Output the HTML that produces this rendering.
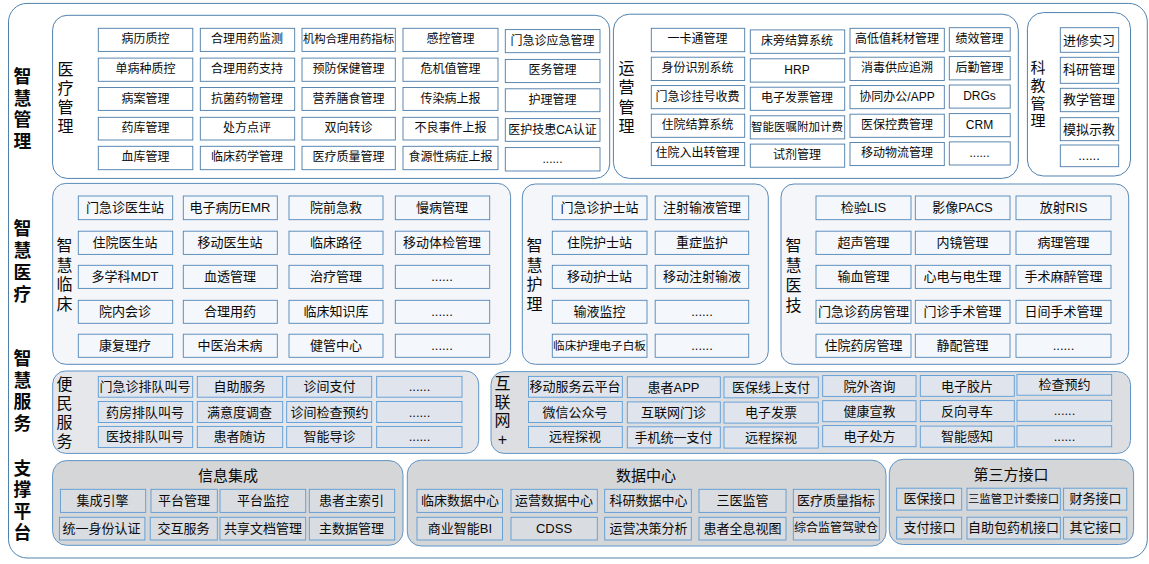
<!DOCTYPE html>
<html lang="zh-CN">
<head>
<meta charset="utf-8">
<title>智慧医院总体架构</title>
<style>
html,body{margin:0;padding:0;background:#fff}
body{width:1149px;height:564px;position:relative;overflow:hidden;font-family:"Liberation Sans","Noto Sans CJK SC",sans-serif}
#art{position:absolute;left:0;top:0;width:1149px;height:564px;display:block;filter:blur(0.35px)}
#txt{position:absolute;left:0;top:0;width:1149px;height:564px;color:#0a0a0a;font-family:"Liberation Sans","Noto Sans CJK SC",sans-serif}
#txt section,#txt div,#txt h2,#txt h3{position:absolute;margin:0;padding:0;overflow:hidden;white-space:nowrap;text-align:center;font-weight:normal}
#txt h2{font-weight:bold;white-space:normal;word-break:break-all}
#txt h3.v{white-space:normal;word-break:break-all}
</style>
</head>
<body>
<svg id="art" width="1149" height="564" viewBox="0 0 1149 564" aria-hidden="true"><rect x="8.5" y="3.4" width="1138.8" height="554.6" rx="18.5" fill="#ffffff" stroke="#4f81ad" stroke-width="1.0"/><rect x="52.6" y="15.3" width="557.1" height="163.1" rx="14.5" fill="#ffffff" stroke="#4f81ad"/><g fill="#ffffff" stroke="#4a7ba8" stroke-width="0.9"><rect x="98.3" y="28.3" width="94.5" height="23.1"/><rect x="200.3" y="28.3" width="94.4" height="23.1"/><rect x="302" y="28.3" width="93.3" height="23.1"/><rect x="403" y="28.3" width="95" height="23.1"/><rect x="505.3" y="29.6" width="94.7" height="23.1"/><rect x="98.3" y="58.1" width="94.5" height="23.2"/><rect x="200.3" y="58.1" width="94.4" height="23.2"/><rect x="302" y="58.1" width="93.3" height="23.2"/><rect x="403" y="58.1" width="95" height="23.2"/><rect x="505.3" y="59.4" width="94.7" height="23.2"/><rect x="98.3" y="87.5" width="94.5" height="22.9"/><rect x="200.3" y="87.5" width="94.4" height="22.9"/><rect x="302" y="87.5" width="93.3" height="22.9"/><rect x="403" y="87.5" width="95" height="22.9"/><rect x="505.3" y="88.8" width="94.7" height="22.9"/><rect x="98.3" y="117.3" width="94.5" height="22.7"/><rect x="200.3" y="117.3" width="94.4" height="22.7"/><rect x="302" y="117.3" width="93.3" height="22.7"/><rect x="403" y="117.3" width="95" height="22.7"/><rect x="505.3" y="118.6" width="94.7" height="22.7"/><rect x="98.3" y="146.3" width="94.5" height="23.4"/><rect x="200.3" y="146.3" width="94.4" height="23.4"/><rect x="302" y="146.3" width="93.3" height="23.4"/><rect x="403" y="146.3" width="95" height="23.4"/><rect x="505.3" y="147.6" width="94.7" height="23.4"/></g><rect x="613.4" y="14.2" width="404.9" height="164.2" rx="16" fill="#ffffff" stroke="#4f81ad"/><g fill="#ffffff" stroke="#4a7ba8" stroke-width="0.9"><rect x="651.3" y="28.3" width="93.4" height="23.4"/><rect x="750.3" y="29.9" width="94.4" height="23.4"/><rect x="850" y="28.3" width="94.3" height="23.4"/><rect x="949.3" y="27.7" width="60.9" height="23.4"/><rect x="651.3" y="57.2" width="93.4" height="23.3"/><rect x="750.3" y="58.8" width="94.4" height="23.3"/><rect x="850" y="57.2" width="94.3" height="23.3"/><rect x="949.3" y="56.6" width="60.9" height="23.3"/><rect x="651.3" y="85.6" width="93.4" height="23.1"/><rect x="750.3" y="87.2" width="94.4" height="23.1"/><rect x="850" y="85.6" width="94.3" height="23.1"/><rect x="949.3" y="85" width="60.9" height="23.1"/><rect x="651.3" y="114.2" width="93.4" height="23.1"/><rect x="750.3" y="115.8" width="94.4" height="23.1"/><rect x="850" y="114.2" width="94.3" height="23.1"/><rect x="949.3" y="113.6" width="60.9" height="23.1"/><rect x="651.3" y="142.5" width="93.4" height="23.1"/><rect x="750.3" y="144.1" width="94.4" height="23.1"/><rect x="850" y="142.5" width="94.3" height="23.1"/><rect x="949.3" y="141.9" width="60.9" height="23.1"/></g><rect x="1027.4" y="12.6" width="103.1" height="163.4" rx="16" fill="#ffffff" stroke="#4f81ad"/><g fill="#ffffff" stroke="#4a7ba8" stroke-width="0.9"><rect x="1060.3" y="27.7" width="58.4" height="24.6"/><rect x="1060.3" y="57.3" width="58.4" height="26"/><rect x="1060.3" y="88.3" width="58.4" height="23.4"/><rect x="1060.3" y="117.7" width="58.4" height="23"/><rect x="1060.3" y="145" width="58.4" height="21.7"/></g><rect x="52.7" y="183.4" width="457.9" height="180.9" rx="13" fill="#f5f6f9" stroke="#5a8ab8"/><g fill="#f4f7fb" stroke="#4f86b8" stroke-width="0.9"><rect x="78.3" y="196" width="94.4" height="23.7"/><rect x="183.3" y="196" width="94" height="23.7"/><rect x="289" y="196" width="94" height="23.7"/><rect x="395.3" y="196" width="94.4" height="23.7"/><rect x="78.3" y="231.2" width="94.4" height="23.2"/><rect x="183.3" y="231.2" width="94" height="23.2"/><rect x="289" y="231.2" width="94" height="23.2"/><rect x="395.3" y="231.2" width="94.4" height="23.2"/><rect x="78.3" y="265.3" width="94.4" height="23.1"/><rect x="183.3" y="265.3" width="94" height="23.1"/><rect x="289" y="265.3" width="94" height="23.1"/><rect x="395.3" y="265.3" width="94.4" height="23.1"/><rect x="78.3" y="300.3" width="94.4" height="23"/><rect x="183.3" y="300.3" width="94" height="23"/><rect x="289" y="300.3" width="94" height="23"/><rect x="395.3" y="300.3" width="94.4" height="23"/><rect x="78.3" y="334.2" width="94.4" height="23.1"/><rect x="183.3" y="334.2" width="94" height="23.1"/><rect x="289" y="334.2" width="94" height="23.1"/><rect x="395.3" y="334.2" width="94.4" height="23.1"/></g><rect x="522.3" y="184" width="246" height="180.3" rx="13" fill="#f5f6f9" stroke="#5a8ab8"/><g fill="#f4f7fb" stroke="#4f86b8" stroke-width="0.9"><rect x="552.3" y="196" width="94.7" height="23.7"/><rect x="655.2" y="196" width="93.5" height="23.7"/><rect x="552.3" y="231.2" width="94.7" height="23.2"/><rect x="655.2" y="231.2" width="93.5" height="23.2"/><rect x="552.3" y="265.3" width="94.7" height="23.1"/><rect x="655.2" y="265.3" width="93.5" height="23.1"/><rect x="552.3" y="300.3" width="94.7" height="23"/><rect x="655.2" y="300.3" width="93.5" height="23"/><rect x="552.3" y="334.2" width="94.7" height="23.1"/><rect x="655.2" y="334.2" width="93.5" height="23.1"/></g><rect x="781" y="184" width="347.7" height="180.3" rx="13" fill="#f5f6f9" stroke="#5a8ab8"/><g fill="#f4f7fb" stroke="#4f86b8" stroke-width="0.9"><rect x="816" y="196" width="95" height="23.7"/><rect x="915.3" y="196" width="94.7" height="23.7"/><rect x="1016" y="196" width="95" height="23.7"/><rect x="816" y="231.2" width="95" height="23.2"/><rect x="915.3" y="231.2" width="94.7" height="23.2"/><rect x="1016" y="231.2" width="95" height="23.2"/><rect x="816" y="265.3" width="95" height="23.1"/><rect x="915.3" y="265.3" width="94.7" height="23.1"/><rect x="1016" y="265.3" width="95" height="23.1"/><rect x="816" y="300.3" width="95" height="23"/><rect x="915.3" y="300.3" width="94.7" height="23"/><rect x="1016" y="300.3" width="95" height="23"/><rect x="816" y="334.2" width="95" height="23.1"/><rect x="915.3" y="334.2" width="94.7" height="23.1"/><rect x="1016" y="334.2" width="95" height="23.1"/></g><rect x="52.7" y="371" width="426" height="82.4" rx="13" fill="#e6e7ea" stroke="#5f95c8"/><g fill="#e0e5ed" stroke="#5b9bd5" stroke-width="0.9"><rect x="98.3" y="376.4" width="94.4" height="20.8"/><rect x="197.3" y="376.4" width="85.4" height="20.8"/><rect x="286.7" y="376.4" width="85" height="20.8"/><rect x="376.7" y="376.4" width="85.3" height="20.8"/><rect x="98.3" y="401.5" width="94.4" height="21"/><rect x="197.3" y="401.5" width="85.4" height="21"/><rect x="286.7" y="401.5" width="85" height="21"/><rect x="376.7" y="401.5" width="85.3" height="21"/><rect x="98.3" y="426.4" width="94.4" height="21.1"/><rect x="197.3" y="426.4" width="85.4" height="21.1"/><rect x="286.7" y="426.4" width="85" height="21.1"/><rect x="376.7" y="426.4" width="85.3" height="21.1"/></g><rect x="491" y="371.6" width="639.5" height="81.8" rx="13" fill="#dddee1" stroke="#5f95c8"/><g fill="#e0e5ed" stroke="#5b9bd5" stroke-width="0.9"><rect x="528.5" y="376.4" width="93.8" height="20.8"/><rect x="627.3" y="376.8" width="93" height="20.8"/><rect x="724" y="377" width="94.3" height="20.8"/><rect x="822.7" y="375.6" width="93.3" height="20.8"/><rect x="920.3" y="375.5" width="94" height="20.8"/><rect x="1017" y="374.4" width="94.7" height="20.8"/><rect x="528.5" y="401.5" width="93.8" height="21"/><rect x="627.3" y="401.9" width="93" height="21"/><rect x="724" y="402.1" width="94.3" height="21"/><rect x="822.7" y="400.7" width="93.3" height="21"/><rect x="920.3" y="400.6" width="94" height="21"/><rect x="1017" y="400.3" width="94.7" height="21"/><rect x="528.5" y="426.4" width="93.8" height="21.1"/><rect x="627.3" y="426.8" width="93" height="21.1"/><rect x="724" y="427" width="94.3" height="21.1"/><rect x="822.7" y="425.6" width="93.3" height="21.1"/><rect x="920.3" y="426.1" width="94" height="21.1"/><rect x="1017" y="425.7" width="94.7" height="21.1"/></g><rect x="52.6" y="460.6" width="350.4" height="84.7" rx="14" fill="#d5d6d8" stroke="#5f95c8"/><g fill="#d9dce1" stroke="#5b9bd5" stroke-width="0.9"><rect x="60.4" y="489.3" width="85.3" height="23.1"/><rect x="151" y="489.3" width="66.3" height="23.1"/><rect x="220" y="489.3" width="85.7" height="23.1"/><rect x="309.3" y="489.3" width="85.4" height="23.1"/><rect x="59.4" y="517.3" width="85.5" height="22.7"/><rect x="150.2" y="517.3" width="67.1" height="22.7"/><rect x="220" y="517.3" width="85.7" height="22.7"/><rect x="309.3" y="517.3" width="85.4" height="22.7"/></g><rect x="407.3" y="460.2" width="478.7" height="85.8" rx="14" fill="#d5d6d8" stroke="#5f95c8"/><g fill="#d9dce1" stroke="#5b9bd5" stroke-width="0.9"><rect x="417" y="489.3" width="85.5" height="23.1"/><rect x="511" y="489.3" width="86.3" height="23.1"/><rect x="604.7" y="489.3" width="86.6" height="23.1"/><rect x="699" y="489.3" width="87" height="23.1"/><rect x="793.3" y="489.3" width="86" height="23.1"/><rect x="417" y="517.3" width="85.5" height="22.7"/><rect x="511" y="517.3" width="86.3" height="22.7"/><rect x="604.7" y="517.3" width="86.6" height="22.7"/><rect x="699" y="517.3" width="87" height="22.7"/><rect x="793.3" y="517.3" width="86" height="22.7"/></g><rect x="889.3" y="459.3" width="244.3" height="85.2" rx="14" fill="#d5d6d8" stroke="#5f95c8"/><g fill="#d9dce1" stroke="#5b9bd5" stroke-width="0.9"><rect x="896.7" y="488.2" width="65" height="21.9"/><rect x="967" y="488.2" width="93.3" height="21.9"/><rect x="1063.6" y="488.2" width="63.2" height="21.9"/><rect x="896.7" y="517.2" width="65" height="21.8"/><rect x="967" y="517.2" width="93.3" height="21.8"/><rect x="1063.6" y="517.2" width="63.2" height="21.8"/></g></svg>
<main id="txt">
<nav class="layers">
<h2 style="left:13px;top:67px;width:19px;height:83px;font-size:17.8px;line-height:21.51px">智慧管理</h2>
<h2 style="left:13px;top:218px;width:19px;height:85px;font-size:17.8px;line-height:22.11px">智慧医疗</h2>
<h2 style="left:13px;top:349px;width:19px;height:84px;font-size:17.8px;line-height:21.74px">智慧服务</h2>
<h2 style="left:13px;top:459px;width:19px;height:83px;font-size:17.8px;line-height:21.47px">支撑平台</h2>
</nav>
<section style="left:53px;top:15px;width:557px;height:163px">
<h3 class="v" style="left:4px;top:45px;width:17px;font-size:16px;line-height:19.05px">医疗管理</h3>
<div style="left:45px;top:13px;width:95px;height:23px;line-height:23px;font-size:12px">病历质控</div>
<div style="left:147px;top:13px;width:94px;height:23px;line-height:23px;font-size:12px">合理用药监测</div>
<div style="left:249px;top:13px;width:93px;height:23px;line-height:23px;font-size:11.4px">机构合理用药指标</div>
<div style="left:350px;top:13px;width:95px;height:23px;line-height:23px;font-size:12px">感控管理</div>
<div style="left:452px;top:15px;width:95px;height:23px;line-height:23px;font-size:12px">门急诊应急管理</div>
<div style="left:45px;top:43px;width:95px;height:23px;line-height:23px;font-size:12px">单病种质控</div>
<div style="left:147px;top:43px;width:94px;height:23px;line-height:23px;font-size:12px">合理用药支持</div>
<div style="left:249px;top:43px;width:93px;height:23px;line-height:23px;font-size:12px">预防保健管理</div>
<div style="left:350px;top:43px;width:95px;height:23px;line-height:23px;font-size:12px">危机值管理</div>
<div style="left:452px;top:44px;width:95px;height:23px;line-height:23px;font-size:12px">医务管理</div>
<div style="left:45px;top:73px;width:95px;height:23px;line-height:23px;font-size:12px">病案管理</div>
<div style="left:147px;top:73px;width:94px;height:23px;line-height:23px;font-size:12px">抗菌药物管理</div>
<div style="left:249px;top:73px;width:93px;height:23px;line-height:23px;font-size:12px">营养膳食管理</div>
<div style="left:350px;top:73px;width:95px;height:23px;line-height:23px;font-size:12px">传染病上报</div>
<div style="left:452px;top:74px;width:95px;height:23px;line-height:23px;font-size:12px">护理管理</div>
<div style="left:45px;top:102px;width:95px;height:23px;line-height:23px;font-size:12px">药库管理</div>
<div style="left:147px;top:102px;width:94px;height:23px;line-height:23px;font-size:12px">处方点评</div>
<div style="left:249px;top:102px;width:93px;height:23px;line-height:23px;font-size:12px">双向转诊</div>
<div style="left:350px;top:102px;width:95px;height:23px;line-height:23px;font-size:12px">不良事件上报</div>
<div style="left:452px;top:104px;width:95px;height:23px;line-height:23px;font-size:12px">医护技患CA认证</div>
<div style="left:45px;top:131px;width:95px;height:23px;line-height:23px;font-size:12px">血库管理</div>
<div style="left:147px;top:131px;width:94px;height:23px;line-height:23px;font-size:12px">临床药学管理</div>
<div style="left:249px;top:131px;width:93px;height:23px;line-height:23px;font-size:12px">医疗质量管理</div>
<div style="left:350px;top:131px;width:95px;height:23px;line-height:23px;font-size:12px">食源性病症上报</div>
<div style="left:452px;top:133px;width:95px;height:23px;line-height:23px;font-size:12px">......</div>
</section>
<section style="left:613px;top:14px;width:405px;height:164px">
<h3 class="v" style="left:5px;top:45px;width:17px;font-size:16px;line-height:19.28px">运营管理</h3>
<div style="left:38px;top:14px;width:93px;height:23px;line-height:23px;font-size:12px">一卡通管理</div>
<div style="left:137px;top:16px;width:94px;height:23px;line-height:23px;font-size:12px">床旁结算系统</div>
<div style="left:237px;top:14px;width:94px;height:23px;line-height:23px;font-size:12px">高低值耗材管理</div>
<div style="left:336px;top:14px;width:61px;height:23px;line-height:23px;font-size:12px">绩效管理</div>
<div style="left:38px;top:43px;width:93px;height:23px;line-height:23px;font-size:12px">身份识别系统</div>
<div style="left:137px;top:45px;width:94px;height:23px;line-height:23px;font-size:12px">HRP</div>
<div style="left:237px;top:43px;width:94px;height:23px;line-height:23px;font-size:12px">消毒供应追溯</div>
<div style="left:336px;top:43px;width:61px;height:23px;line-height:23px;font-size:12px">后勤管理</div>
<div style="left:38px;top:72px;width:93px;height:23px;line-height:23px;font-size:12px">门急诊挂号收费</div>
<div style="left:137px;top:73px;width:94px;height:23px;line-height:23px;font-size:12px">电子发票管理</div>
<div style="left:237px;top:72px;width:94px;height:23px;line-height:23px;font-size:12px">协同办公/APP</div>
<div style="left:336px;top:71px;width:61px;height:23px;line-height:23px;font-size:12px">DRGs</div>
<div style="left:38px;top:100px;width:93px;height:23px;line-height:23px;font-size:12px">住院结算系统</div>
<div style="left:137px;top:102px;width:94px;height:23px;line-height:23px;font-size:11.5px">智能医嘱附加计费</div>
<div style="left:237px;top:100px;width:94px;height:23px;line-height:23px;font-size:12px">医保控费管理</div>
<div style="left:336px;top:100px;width:61px;height:23px;line-height:23px;font-size:12px">CRM</div>
<div style="left:38px;top:128px;width:93px;height:23px;line-height:23px;font-size:12px">住院入出转管理</div>
<div style="left:137px;top:130px;width:94px;height:23px;line-height:23px;font-size:12px">试剂管理</div>
<div style="left:237px;top:128px;width:94px;height:23px;line-height:23px;font-size:12px">移动物流管理</div>
<div style="left:336px;top:128px;width:61px;height:23px;line-height:23px;font-size:12px">......</div>
</section>
<section style="left:1027px;top:13px;width:103px;height:163px">
<h3 class="v" style="left:3px;top:46px;width:16px;font-size:15px;line-height:17.83px">科教管理</h3>
<div style="left:33px;top:15px;width:58px;height:25px;line-height:25px;font-size:13px">进修实习</div>
<div style="left:33px;top:44px;width:58px;height:26px;line-height:26px;font-size:13px">科研管理</div>
<div style="left:33px;top:75px;width:58px;height:23px;line-height:23px;font-size:13px">教学管理</div>
<div style="left:33px;top:105px;width:58px;height:23px;line-height:23px;font-size:13px">模拟示教</div>
<div style="left:33px;top:132px;width:58px;height:22px;line-height:22px;font-size:13px">......</div>
</section>
<section style="left:53px;top:183px;width:458px;height:181px">
<h3 class="v" style="left:3px;top:53px;width:17px;font-size:16px;line-height:19.55px">智慧临床</h3>
<div style="left:25px;top:13px;width:94px;height:24px;line-height:24px;font-size:13px">门急诊医生站</div>
<div style="left:130px;top:13px;width:94px;height:24px;line-height:24px;font-size:13px">电子病历EMR</div>
<div style="left:236px;top:13px;width:94px;height:24px;line-height:24px;font-size:13px">院前急救</div>
<div style="left:342px;top:13px;width:94px;height:24px;line-height:24px;font-size:13px">慢病管理</div>
<div style="left:25px;top:48px;width:94px;height:23px;line-height:23px;font-size:13px">住院医生站</div>
<div style="left:130px;top:48px;width:94px;height:23px;line-height:23px;font-size:13px">移动医生站</div>
<div style="left:236px;top:48px;width:94px;height:23px;line-height:23px;font-size:13px">临床路径</div>
<div style="left:342px;top:48px;width:94px;height:23px;line-height:23px;font-size:13px">移动体检管理</div>
<div style="left:25px;top:82px;width:94px;height:23px;line-height:23px;font-size:13px">多学科MDT</div>
<div style="left:130px;top:82px;width:94px;height:23px;line-height:23px;font-size:13px">血透管理</div>
<div style="left:236px;top:82px;width:94px;height:23px;line-height:23px;font-size:13px">治疗管理</div>
<div style="left:342px;top:82px;width:94px;height:23px;line-height:23px;font-size:13px">......</div>
<div style="left:25px;top:117px;width:94px;height:23px;line-height:23px;font-size:13px">院内会诊</div>
<div style="left:130px;top:117px;width:94px;height:23px;line-height:23px;font-size:13px">合理用药</div>
<div style="left:236px;top:117px;width:94px;height:23px;line-height:23px;font-size:13px">临床知识库</div>
<div style="left:342px;top:117px;width:94px;height:23px;line-height:23px;font-size:13px">......</div>
<div style="left:25px;top:151px;width:94px;height:23px;line-height:23px;font-size:13px">康复理疗</div>
<div style="left:130px;top:151px;width:94px;height:23px;line-height:23px;font-size:13px">中医治未病</div>
<div style="left:236px;top:151px;width:94px;height:23px;line-height:23px;font-size:13px">健管中心</div>
<div style="left:342px;top:151px;width:94px;height:23px;line-height:23px;font-size:13px">......</div>
</section>
<section style="left:522px;top:184px;width:246px;height:180px">
<h3 class="v" style="left:4px;top:52px;width:17px;font-size:16px;line-height:19.55px">智慧护理</h3>
<div style="left:30px;top:12px;width:95px;height:24px;line-height:24px;font-size:13px">门急诊护士站</div>
<div style="left:133px;top:12px;width:94px;height:24px;line-height:24px;font-size:13px">注射输液管理</div>
<div style="left:30px;top:47px;width:95px;height:23px;line-height:23px;font-size:13px">住院护士站</div>
<div style="left:133px;top:47px;width:94px;height:23px;line-height:23px;font-size:13px">重症监护</div>
<div style="left:30px;top:81px;width:95px;height:23px;line-height:23px;font-size:13px">移动护士站</div>
<div style="left:133px;top:81px;width:94px;height:23px;line-height:23px;font-size:13px">移动注射输液</div>
<div style="left:30px;top:116px;width:95px;height:23px;line-height:23px;font-size:13px">输液监控</div>
<div style="left:133px;top:116px;width:94px;height:23px;line-height:23px;font-size:13px">......</div>
<div style="left:30px;top:150px;width:95px;height:23px;line-height:23px;font-size:11.6px">临床护理电子白板</div>
<div style="left:133px;top:150px;width:94px;height:23px;line-height:23px;font-size:13px">......</div>
</section>
<section style="left:781px;top:184px;width:348px;height:180px">
<h3 class="v" style="left:4px;top:52px;width:17px;font-size:16px;line-height:19.88px">智慧医技</h3>
<div style="left:35px;top:12px;width:95px;height:24px;line-height:24px;font-size:13px">检验LIS</div>
<div style="left:134px;top:12px;width:95px;height:24px;line-height:24px;font-size:13px">影像PACS</div>
<div style="left:235px;top:12px;width:95px;height:24px;line-height:24px;font-size:13px">放射RIS</div>
<div style="left:35px;top:47px;width:95px;height:23px;line-height:23px;font-size:13px">超声管理</div>
<div style="left:134px;top:47px;width:95px;height:23px;line-height:23px;font-size:13px">内镜管理</div>
<div style="left:235px;top:47px;width:95px;height:23px;line-height:23px;font-size:13px">病理管理</div>
<div style="left:35px;top:81px;width:95px;height:23px;line-height:23px;font-size:13px">输血管理</div>
<div style="left:134px;top:81px;width:95px;height:23px;line-height:23px;font-size:13px">心电与电生理</div>
<div style="left:235px;top:81px;width:95px;height:23px;line-height:23px;font-size:13px">手术麻醉管理</div>
<div style="left:35px;top:116px;width:95px;height:23px;line-height:23px;font-size:13px">门急诊药房管理</div>
<div style="left:134px;top:116px;width:95px;height:23px;line-height:23px;font-size:13px">门诊手术管理</div>
<div style="left:235px;top:116px;width:95px;height:23px;line-height:23px;font-size:13px">日间手术管理</div>
<div style="left:35px;top:150px;width:95px;height:23px;line-height:23px;font-size:13px">住院药房管理</div>
<div style="left:134px;top:150px;width:95px;height:23px;line-height:23px;font-size:13px">静配管理</div>
<div style="left:235px;top:150px;width:95px;height:23px;line-height:23px;font-size:13px">......</div>
</section>
<section style="left:53px;top:371px;width:426px;height:82px">
<h3 class="v" style="left:3px;top:4px;width:17px;font-size:16px;line-height:19.11px">便民服务</h3>
<div style="left:45px;top:5px;width:94px;height:21px;line-height:21px;font-size:13px">门急诊排队叫号</div>
<div style="left:144px;top:5px;width:85px;height:21px;line-height:21px;font-size:13px">自助服务</div>
<div style="left:234px;top:5px;width:85px;height:21px;line-height:21px;font-size:13px">诊间支付</div>
<div style="left:324px;top:5px;width:85px;height:21px;line-height:21px;font-size:13px">......</div>
<div style="left:45px;top:31px;width:94px;height:21px;line-height:21px;font-size:13px">药房排队叫号</div>
<div style="left:144px;top:31px;width:85px;height:21px;line-height:21px;font-size:13px">满意度调查</div>
<div style="left:234px;top:31px;width:85px;height:21px;line-height:21px;font-size:13px">诊间检查预约</div>
<div style="left:324px;top:31px;width:85px;height:21px;line-height:21px;font-size:13px">......</div>
<div style="left:45px;top:55px;width:94px;height:21px;line-height:21px;font-size:13px">医技排队叫号</div>
<div style="left:144px;top:55px;width:85px;height:21px;line-height:21px;font-size:13px">患者随访</div>
<div style="left:234px;top:55px;width:85px;height:21px;line-height:21px;font-size:13px">智能导诊</div>
<div style="left:324px;top:55px;width:85px;height:21px;line-height:21px;font-size:13px">......</div>
</section>
<section style="left:491px;top:372px;width:640px;height:82px">
<h3 class="v" style="left:3px;top:3px;width:17px;font-size:16px;line-height:18.6px">互联网+</h3>
<div style="left:37px;top:4px;width:94px;height:21px;line-height:21px;font-size:13px">移动服务云平台</div>
<div style="left:136px;top:5px;width:93px;height:21px;line-height:21px;font-size:13px">患者APP</div>
<div style="left:233px;top:5px;width:94px;height:21px;line-height:21px;font-size:13px">医保线上支付</div>
<div style="left:332px;top:4px;width:93px;height:21px;line-height:21px;font-size:13px">院外咨询</div>
<div style="left:429px;top:4px;width:94px;height:21px;line-height:21px;font-size:13px">电子胶片</div>
<div style="left:526px;top:2px;width:95px;height:21px;line-height:21px;font-size:13px">检查预约</div>
<div style="left:37px;top:30px;width:94px;height:21px;line-height:21px;font-size:13px">微信公众号</div>
<div style="left:136px;top:30px;width:93px;height:21px;line-height:21px;font-size:13px">互联网门诊</div>
<div style="left:233px;top:30px;width:94px;height:21px;line-height:21px;font-size:13px">电子发票</div>
<div style="left:332px;top:29px;width:93px;height:21px;line-height:21px;font-size:13px">健康宣教</div>
<div style="left:429px;top:29px;width:94px;height:21px;line-height:21px;font-size:13px">反向寻车</div>
<div style="left:526px;top:28px;width:95px;height:21px;line-height:21px;font-size:13px">......</div>
<div style="left:37px;top:54px;width:94px;height:21px;line-height:21px;font-size:13px">远程探视</div>
<div style="left:136px;top:55px;width:93px;height:21px;line-height:21px;font-size:13px">手机统一支付</div>
<div style="left:233px;top:55px;width:94px;height:21px;line-height:21px;font-size:13px">远程探视</div>
<div style="left:332px;top:54px;width:93px;height:21px;line-height:21px;font-size:13px">电子处方</div>
<div style="left:429px;top:54px;width:94px;height:21px;line-height:21px;font-size:13px">智能感知</div>
<div style="left:526px;top:54px;width:95px;height:21px;line-height:21px;font-size:13px">......</div>
</section>
<section style="left:53px;top:461px;width:350px;height:85px">
<h3 style="left:115px;top:5px;width:120px;font-size:15px;line-height:20px">信息集成</h3>
<div style="left:7px;top:28px;width:85px;height:23px;line-height:23px;font-size:13px">集成引擎</div>
<div style="left:98px;top:28px;width:66px;height:23px;line-height:23px;font-size:13px">平台管理</div>
<div style="left:167px;top:28px;width:86px;height:23px;line-height:23px;font-size:13px">平台监控</div>
<div style="left:256px;top:28px;width:85px;height:23px;line-height:23px;font-size:13px">患者主索引</div>
<div style="left:6px;top:56px;width:85px;height:23px;line-height:23px;font-size:13px">统一身份认证</div>
<div style="left:97px;top:56px;width:67px;height:23px;line-height:23px;font-size:13px">交互服务</div>
<div style="left:167px;top:56px;width:86px;height:23px;line-height:23px;font-size:13px">共享文档管理</div>
<div style="left:256px;top:56px;width:85px;height:23px;line-height:23px;font-size:13px">主数据管理</div>
</section>
<section style="left:407px;top:460px;width:479px;height:86px">
<h3 style="left:179px;top:6px;width:120px;font-size:15px;line-height:20px">数据中心</h3>
<div style="left:10px;top:29px;width:86px;height:23px;line-height:23px;font-size:13px">临床数据中心</div>
<div style="left:104px;top:29px;width:86px;height:23px;line-height:23px;font-size:13px">运营数据中心</div>
<div style="left:198px;top:29px;width:87px;height:23px;line-height:23px;font-size:13px">科研数据中心</div>
<div style="left:292px;top:29px;width:87px;height:23px;line-height:23px;font-size:13px">三医监管</div>
<div style="left:386px;top:29px;width:86px;height:23px;line-height:23px;font-size:13px">医疗质量指标</div>
<div style="left:10px;top:57px;width:86px;height:23px;line-height:23px;font-size:13px">商业智能BI</div>
<div style="left:104px;top:57px;width:86px;height:23px;line-height:23px;font-size:13px">CDSS</div>
<div style="left:198px;top:57px;width:87px;height:23px;line-height:23px;font-size:13px">运营决策分析</div>
<div style="left:292px;top:57px;width:87px;height:23px;line-height:23px;font-size:13px">患者全息视图</div>
<div style="left:386px;top:57px;width:86px;height:23px;line-height:23px;font-size:12px">综合监管驾驶仓</div>
</section>
<section style="left:889px;top:459px;width:244px;height:85px">
<h3 style="left:62px;top:6px;width:120px;font-size:15px;line-height:20px">第三方接口</h3>
<div style="left:8px;top:29px;width:65px;height:22px;line-height:22px;font-size:13px">医保接口</div>
<div style="left:78px;top:29px;width:93px;height:22px;line-height:22px;font-size:11.4px">三监管卫计委接口</div>
<div style="left:175px;top:29px;width:63px;height:22px;line-height:22px;font-size:13px">财务接口</div>
<div style="left:8px;top:58px;width:65px;height:22px;line-height:22px;font-size:13px">支付接口</div>
<div style="left:78px;top:58px;width:93px;height:22px;line-height:22px;font-size:13px">自助包药机接口</div>
<div style="left:175px;top:58px;width:63px;height:22px;line-height:22px;font-size:13px">其它接口</div>
</section>
</main>
</body>
</html>
